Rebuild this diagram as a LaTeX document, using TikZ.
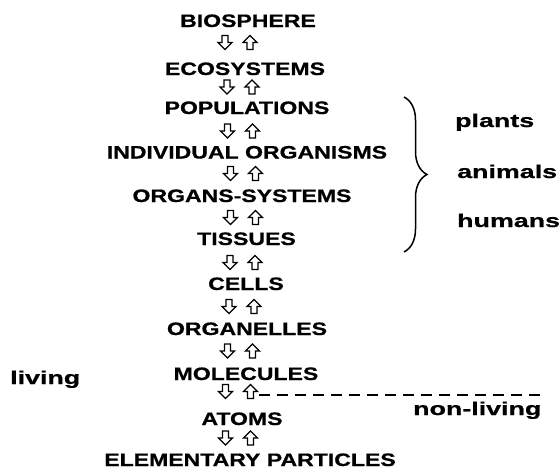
\documentclass[tikz,border=0pt]{standalone}
\usepackage{fontspec}
\setmainfont{Liberation Sans}
\newfontfamily\capsfont{Liberation Sans}[FakeStretch=1.28, FakeBold=0.8]
\newfontfamily\lowfont{Liberation Sans}[FakeStretch=1.45, FakeBold=0.8]
\usetikzlibrary{decorations.pathreplacing}
\tikzset{
  level/.style={font=\capsfont\bfseries\fontsize{18}{20}\selectfont, anchor=base, inner sep=0pt},
  side/.style={font=\lowfont\bfseries\fontsize{18.5}{20}\selectfont, anchor=base west, inner sep=0pt},
  hollow/.style={line width=1.4pt, line join=miter, fill=white},
  pics/downarrow/.style={code={\draw[hollow] (-3,-7) -- (3,-7) -- (3,0) -- (7,0) -- (0,7) -- (-7,0) -- (-3,0) -- cycle;}},
  pics/uparrow/.style={code={\draw[hollow] (-3,7) -- (3,7) -- (3,0) -- (7,0) -- (0,-7) -- (-7,0) -- (-3,0) -- cycle;}},
  pics/updown/.style={code={\pic at (-12.5,0) {downarrow}; \pic at (12.5,0) {uparrow};}},
}
\begin{document}
\begin{tikzpicture}[x=1pt,y=-1pt]
\useasboundingbox (0,0) rectangle (560,469);
% levels
\node[level] (bio) at (248,27) {BIOSPHERE};
\node[level] (eco) at (245,75) {ECOSYSTEMS};
\node[level] (pop) at (247,114) {POPULATIONS};
\node[level] (ind) at (247,158.5) {INDIVIDUAL ORGANISMS};
\node[level] (org) at (242,202) {ORGANS-SYSTEMS};
\node[level] (tis) at (246.5,245) {TISSUES};
\node[level] (cel) at (246,290) {CELLS};
\node[level] (ole) at (247,335) {ORGANELLES};
\node[level] (mol) at (246,380) {MOLECULES};
\node[level] (ato) at (242,425) {ATOMS};
\node[level] (ele) at (250,466) {ELEMENTARY PARTICLES};
% arrow pairs
\pic at (237.5,42.5) {updown};
\pic at (239.5,87) {updown};
\pic at (240,131) {updown};
\pic at (243,173.5) {updown};
\pic at (243,217.5) {updown};
\pic at (242.5,262.5) {updown};
\pic at (241.5,306.5) {updown};
\pic at (240,351) {updown};
\pic at (238,391.5) {updown};
\pic at (238,438) {updown};
% brace
\coordinate (bt) at (404,97);
\coordinate (bb) at (404,252);
\draw[decorate, decoration={brace, amplitude=23pt}, line width=1.5pt] (bt) -- (bb);
% side labels
\node[side] (pl) at (455,127) {plants};
\node[side] (an) at (457,178) {animals};
\node[side] (hu) at (457,227) {humans};
\node[side] (li) at (10,384) {living};
\node[side] (nl) at (413,415) {non-living};
% dashed divider
\coordinate (ds) at (259,395);
\coordinate (de) at (545,395);
\draw[line width=2pt, dash pattern=on 11pt off 7pt] (ds) -- (de);
\end{tikzpicture}
\end{document}
